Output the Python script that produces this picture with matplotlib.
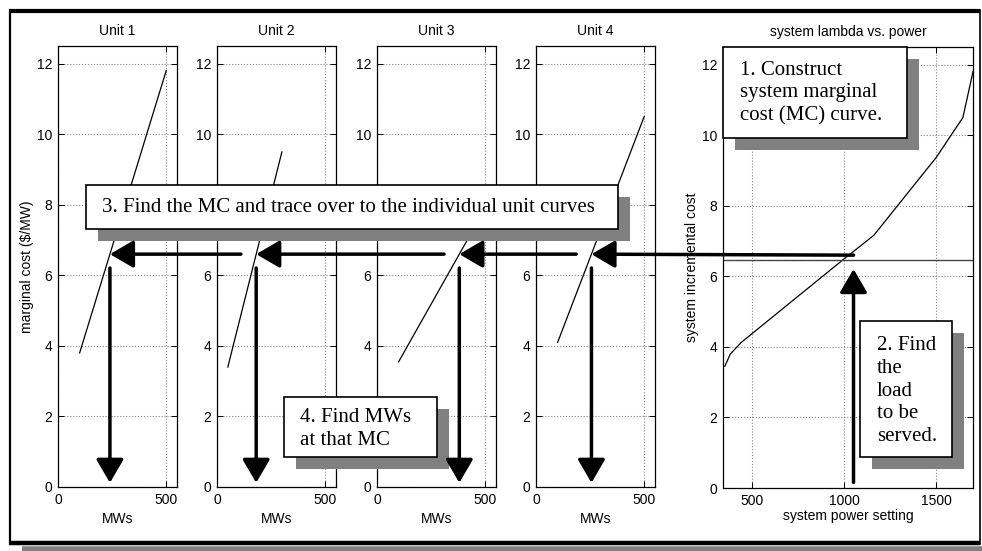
import numpy as np
import matplotlib
matplotlib.use("Agg")
import matplotlib.pyplot as plt
from matplotlib.patches import Rectangle

# -----------------------------
# Data
# -----------------------------
unit_names = ["Unit 1", "Unit 2", "Unit 3", "Unit 4"]
unit_mw = [[100, 500], [50, 300], [100, 500], [100, 500]]
unit_mc = [[3.8, 11.8], [3.4, 9.5], [3.55, 7.9], [4.1, 10.5]]

sys_mw = [350, 380, 440, 1000, 1160, 1500, 1645, 1700]
sys_mc = [3.45, 3.8, 4.13, 6.5, 7.16, 9.37, 10.5, 11.8]

load_mw = 1050     # load to be served
lam_trace = 6.6    # MC traced over to the units
lam_line = 6.45    # thin line in the system panel

unit_ticks_x = [0, 500]
sys_ticks_x = [500, 1000, 1500]
ticks_y = [0, 2, 4, 6, 8, 10, 12]

# -----------------------------
# Figure setup (pixel layout)
# -----------------------------
W, H = 982, 551
plt.rcParams['font.family'] = ['Liberation Sans', 'DejaVu Sans']
fig = plt.figure(figsize=(W / 100, H / 100), dpi=100)
SERIF = ['Liberation Serif', 'DejaVu Serif']


def axes_px(left, right, top, bottom):
    return fig.add_axes([left / W, 1 - bottom / H, (right - left) / W, (bottom - top) / H])


def matlab_look(ax):
    ax.tick_params(direction='in', top=True, right=True, length=4, width=0.7,
                   labelsize=10, pad=4)
    ax.grid(True, linestyle=':', color='#888888', lw=0.8)
    for s in ax.spines.values():
        s.set_linewidth(0.9)
    ax.set_yticks(ticks_y)
    ax.set_ylim(0, 12.5)


# unit panels
unit_left = [58, 217, 377, 536]
unit_axes = []
for i, name in enumerate(unit_names):
    ax = axes_px(unit_left[i], unit_left[i] + 119, 46, 487)
    ax.plot(unit_mw[i], unit_mc[i], color='black', lw=0.9)
    ax.set_xlim(0, 550)
    ax.set_xticks(unit_ticks_x)
    matlab_look(ax)
    ax.set_title(name, fontsize=10, pad=8)
    ax.set_xlabel("MWs", fontsize=10, labelpad=4)
    unit_axes.append(ax)
unit_axes[0].set_ylabel(r"marginal cost (\$/MW)", fontsize=10, labelpad=2)

# system panel
sax = axes_px(723, 973, 47, 488)
sax.plot(sys_mw, sys_mc, color='black', lw=0.9)
sax.axhline(lam_line, color='#444444', lw=1.0)
sax.set_xlim(340, 1700)
sax.set_xticks(sys_ticks_x)
matlab_look(sax)
sax.set_title("system lambda vs. power", fontsize=10, pad=8)
sax.set_xlabel("system power setting", fontsize=10, labelpad=1)
sax.set_ylabel("system incremental cost", fontsize=10, labelpad=2)

# -----------------------------
# Overlay: frame, arrows, note boxes
# -----------------------------
ov = fig.add_axes([0, 0, 1, 1])
ov.set_xlim(0, W)
ov.set_ylim(H, 0)
ov.axis('off')
ov.set_zorder(10)

# outer frame
ov.plot([22, W], [548.5, 548.5], color='#808080', lw=4, solid_capstyle='butt')
ov.plot([10, 980], [11, 11], color='black', lw=3, solid_capstyle='butt')
ov.plot([10, 980], [543, 543], color='black', lw=3.2, solid_capstyle='butt')
ov.plot([10.5, 10.5], [10, 544], color='black', lw=1.6)
ov.plot([980, 980], [10, 544], color='black', lw=1.2)

head = dict(arrowstyle='-|>,head_length=0.72,head_width=0.42', mutation_scale=20,
            lw=2.5, color='black', fc='black')

# where each unit crosses the traced MC
unit_out = [np.interp(lam_trace, unit_mc[i], unit_mw[i]) for i in range(4)]

# horizontal arrows: system -> unit 4 -> unit 3 -> unit 2 -> unit 1
prev_xy, prev_ax, gap = (load_mw, lam_trace), sax, 0
for i in [3, 2, 1, 0]:
    ov.annotate("", xy=(unit_out[i], lam_trace), xycoords=unit_axes[i].transData,
                xytext=prev_xy, textcoords=prev_ax.transData,
                arrowprops=dict(head, shrinkA=gap, shrinkB=0))
    prev_xy, prev_ax, gap = (unit_out[i], lam_trace), unit_axes[i], 11

# vertical arrows down to the MW axis
for i in range(4):
    ov.annotate("", xy=(unit_out[i], 0), xycoords=unit_axes[i].transData,
                xytext=(unit_out[i], lam_trace), textcoords=unit_axes[i].transData,
                arrowprops=dict(head, shrinkA=10, shrinkB=3))

# load arrow up in the system panel
ov.annotate("", xy=(load_mw, lam_trace), xycoords=sax.transData,
            xytext=(load_mw, 0), textcoords=sax.transData,
            arrowprops=dict(head, shrinkA=4, shrinkB=10))


def note(x0, y0, x1, y1, text, tx, ty, fs=15, ls=1.27):
    ov.add_patch(Rectangle((x0 + 12, y0 + 12), x1 - x0, y1 - y0, fc='#808080', ec='none'))
    ov.add_patch(Rectangle((x0, y0), x1 - x0, y1 - y0, fc='white', ec='black', lw=1.2))
    ov.text(tx, ty, text, family=SERIF, fontsize=fs, ha='left', va='center',
            linespacing=ls)


note(723, 47, 907, 138, "1. Construct\nsystem marginal\ncost (MC) curve.", 740, 93)
note(860, 321, 952, 457, "2. Find\nthe\nload\nto be\nserved.", 877, 391)
note(86, 185, 618, 229, "3. Find the MC and trace over to the individual unit curves", 102, 207)
note(284, 397, 437, 457, "4. Find MWs\nat that MC", 300, 429)

fig.savefig("out.png", dpi=100)
